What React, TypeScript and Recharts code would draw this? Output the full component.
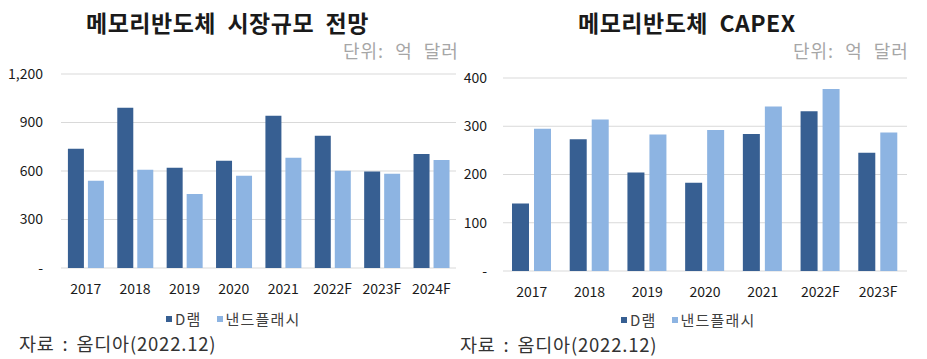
import React from 'react';
import { BarChart, Bar, XAxis, YAxis, CartesianGrid } from 'recharts';

// market size, 억 달러
const marketYears = ['2017', '2018', '2019', '2020', '2021', '2022F', '2023F', '2024F'];
const marketDram = [738, 991, 620, 664, 942, 818, 597, 705];
const marketNand = [540, 608, 458, 571, 682, 602, 583, 668];
const marketTicks = [0, 300, 600, 900, 1200];

// capex, 억 달러
const capexYears = ['2017', '2018', '2019', '2020', '2021', '2022F', '2023F'];
const capexDram = [140, 273, 204, 183, 284, 331, 245];
const capexNand = [295, 314, 283, 292, 341, 377, 287];
const capexTicks = [0, 100, 200, 300, 400];

const seriesNames = ['D램', '낸드플래시'];
const DARK = '#375F92';
const LIGHT = '#8DB4E2';
const FONT = '"Noto Sans CJK KR", "Noto Sans", sans-serif';

const fmt = (v: number) => (v === 0 ? '-' : v.toLocaleString('en-US'));

const buildRows = (years: string[], dram: number[], nand: number[]) =>
  years.map((year, i) => ({ year, dram: dram[i], nand: nand[i] }));

const tickStyle = { fontSize: 14, fill: '#1a1a1a', fontFamily: FONT };

const Legend: React.FC<{ left: number; top: number }> = ({ left, top }) => (
  <div
    style={{
      position: 'absolute',
      left,
      top,
      display: 'flex',
      alignItems: 'center',
      fontSize: 15,
      color: '#404040',
      fontFamily: FONT,
      lineHeight: '15px',
    }}
  >
    {seriesNames.map((name, i) => (
      <div key={name} style={{ display: 'flex', alignItems: 'center', marginRight: 15 }}>
        <span style={{ width: 6, height: 6, background: i === 0 ? DARK : LIGHT, marginRight: 3 }} />
        <span style={{ letterSpacing: 1.2 }}>{name}</span>
      </div>
    ))}
  </div>
);

const Text: React.FC<{ style: React.CSSProperties; children: React.ReactNode }> = ({ style, children }) => (
  <div style={{ position: 'absolute', fontFamily: FONT, whiteSpace: 'pre', ...style }}>{children}</div>
);

const App: React.FC = () => {
  const marketData = buildRows(marketYears, marketDram, marketNand);
  const capexData = buildRows(capexYears, capexDram, capexNand);

  return (
    <div style={{ position: 'absolute', left: 0, top: 0, width: 927, height: 359, background: '#fff', overflow: 'hidden' }}>
      {/* left chart */}
      <div style={{ position: 'absolute', left: 0, top: 0 }}>
        <BarChart
          width={460}
          height={359}
          data={marketData}
          margin={{ top: 74, right: 4, left: 11, bottom: 61 }}
          barCategoryGap="14%"
          barGap={4}
        >
          <CartesianGrid vertical={false} stroke="#d9d9d9" />
          <XAxis dataKey="year" axisLine={false} tickLine={false} tick={tickStyle} tickMargin={10} height={30} interval={0} />
          <YAxis
            domain={[0, 1200]}
            ticks={marketTicks}
            tickFormatter={fmt}
            axisLine={false}
            tickLine={false}
            tick={tickStyle}
            tickMargin={12}
            width={50}
          />
          <Bar dataKey="dram" name={seriesNames[0]} fill={DARK} isAnimationActive={false} />
          <Bar dataKey="nand" name={seriesNames[1]} fill={LIGHT} isAnimationActive={false} />
        </BarChart>
      </div>
      <Text style={{ left: 86, top: 5, fontSize: 23, fontWeight: 700, color: '#1a1a1a', letterSpacing: 0.5 }}>
        메모리반도체  시장규모  전망
      </Text>
      <Text style={{ left: 343, top: 37, fontSize: 18, color: '#a6a6a6', letterSpacing: 1, wordSpacing: 6 }}>단위: 억 달러</Text>
      <Legend left={166} top={311} />
      <Text style={{ left: 19, top: 333, fontSize: 18.5, lineHeight: '20px', color: '#333', letterSpacing: 0.8, wordSpacing: 3 }}>자료 : 옴디아(2022.12)</Text>

      {/* right chart */}
      <div style={{ position: 'absolute', left: 460, top: 0 }}>
        <BarChart
          width={467}
          height={359}
          data={capexData}
          margin={{ top: 78, right: 20, left: 13, bottom: 58 }}
          barCategoryGap="15.6%"
          barGap={5}
        >
          <CartesianGrid vertical={false} stroke="#d9d9d9" />
          <XAxis dataKey="year" axisLine={false} tickLine={false} tick={tickStyle} tickMargin={10} height={30} interval={0} />
          <YAxis
            domain={[0, 400]}
            ticks={capexTicks}
            tickFormatter={fmt}
            axisLine={false}
            tickLine={false}
            tick={tickStyle}
            tickMargin={10}
            width={30}
          />
          <Bar dataKey="dram" name={seriesNames[0]} fill={DARK} isAnimationActive={false} />
          <Bar dataKey="nand" name={seriesNames[1]} fill={LIGHT} isAnimationActive={false} />
        </BarChart>
      </div>
      <Text style={{ left: 578, top: 5, fontSize: 23, fontWeight: 700, color: '#1a1a1a', letterSpacing: 0.5 }}>
        메모리반도체  CAPEX
      </Text>
      <Text style={{ left: 793, top: 37, fontSize: 18, color: '#a6a6a6', letterSpacing: 1, wordSpacing: 6 }}>단위: 억 달러</Text>
      <Legend left={621} top={312} />
      <Text style={{ left: 460, top: 334, fontSize: 18.5, lineHeight: '20px', color: '#333', letterSpacing: 0.8, wordSpacing: 3 }}>자료 : 옴디아(2022.12)</Text>
    </div>
  );
};

export default App;
